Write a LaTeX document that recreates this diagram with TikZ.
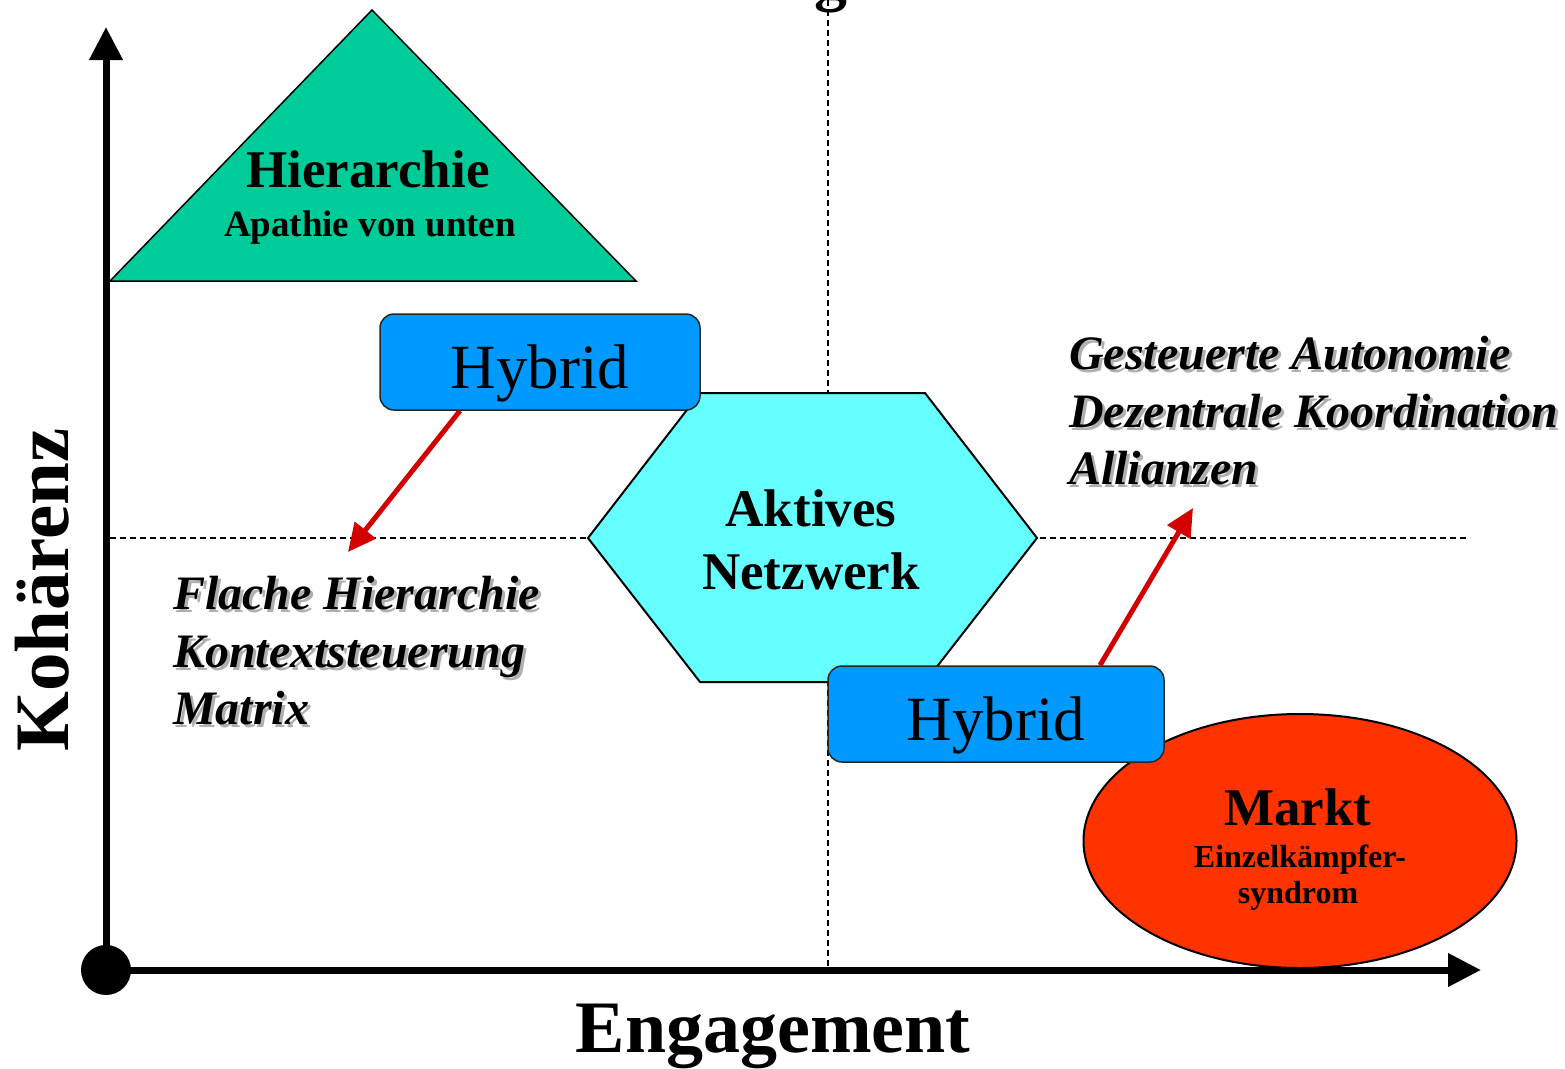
\documentclass[tikz,border=0pt]{standalone}
\usepackage{fontspec}
\setmainfont{Liberation Serif}
\usetikzlibrary{shapes.geometric,arrows.meta,positioning,calc}

\definecolor{hiergruen}{RGB}{0,204,153}
\definecolor{hybridblau}{RGB}{0,153,255}
\definecolor{netzcyan}{RGB}{102,255,255}
\definecolor{marktrot}{RGB}{255,51,0}
\definecolor{pfeilrot}{RGB}{210,0,0}
\definecolor{schatten}{RGB}{175,175,175}

\tikzset{
  raster/.style={line width=1.3pt, dash pattern=on 6pt off 4pt},
  achse/.style={line width=7pt, -{Triangle[length=33pt,width=32pt]}},
  rotpfeil/.style={pfeilrot, line width=5pt, -{Triangle[length=28pt,width=26pt]}},
  hybrid/.style={draw=black!85, fill=hybridblau, line width=1.5pt, rounded corners=14pt,
    minimum height=96pt, text height=52pt, text depth=0pt,
    font=\fontsize{63}{70}\selectfont},
  titel/.style={font=\bfseries\fontsize{53}{60}\selectfont},
  liste/.style={align=left, anchor=north west, inner sep=0pt,
    font=\bfseries\itshape\fontsize{48}{57.5}\selectfont},
}

\begin{document}
\begin{tikzpicture}[x=1pt,y=-1pt]
\useasboundingbox (0,0) rectangle (1565,1068);

% oben abgeschnittener Titel
\node[font=\bfseries\fontsize{66}{70}\selectfont, anchor=base] (oben) at (786,-1.5) {Vollintegriert};

% Raster
\draw[raster] (110,538) -- (1470,538);
\draw[raster] (828,0) -- (828,968);

% Hierarchie
\draw[fill=hiergruen, line width=1.5pt] (110,281) -- (372,10) -- (636,281) -- cycle;
\node[titel, anchor=base] (hier) at (368,187) {Hierarchie};
\node[font=\bfseries\fontsize{37}{40}\selectfont, anchor=base] (apathie) at (370,236) {Apathie von unten};

% Netzwerk
\draw[fill=netzcyan, line width=2pt] (588,538) -- (700,393) -- (925,393) -- (1037,538) -- (925,682) -- (700,682) -- cycle;
\node[titel, align=center, font=\bfseries\fontsize{53}{63}\selectfont] (netz) at (811,540) {Aktives\\Netzwerk};

% Markt
\node[ellipse, draw, fill=marktrot, line width=2pt, inner sep=0pt,
  minimum width=433pt, minimum height=254pt] (markt) at (1300,841) {};
\node[titel, anchor=base] (marktname) at (1298,825) {Markt};
\node[font=\bfseries\fontsize{32}{36}\selectfont, anchor=base] (einzel) at (1300,867) {Einzelkämpfer-};
\node[font=\bfseries\fontsize{32}{36}\selectfont, anchor=base] (syndrom) at (1298,903) {syndrom};

% Hybride
\node[hybrid, minimum width=320pt] (hyb1) at (540,362) {Hybrid};
\node[hybrid, minimum width=336pt] (hyb2) at (996,714) {Hybrid};

% Listen
\node[liste, text=schatten] at (176,579) {Flache Hierarchie\\Kontextsteuerung\\Matrix};
\node[liste] (flach) at (173,576) {Flache Hierarchie\\Kontextsteuerung\\Matrix};
\node[liste, text=schatten] at (1072,339) {Gesteuerte Autonomie\\Dezentrale Koordination\\Allianzen};
\node[liste] (autonom) at (1069,336) {Gesteuerte Autonomie\\Dezentrale Koordination\\Allianzen};

% Pfeile
\coordinate (flachziel) at (348,552);
\coordinate (autonomziel) at (1193,508);
\draw[rotpfeil] ([xshift=-80pt]hyb1.south) -- (flachziel);
\draw[rotpfeil] ([xshift=104pt]hyb2.north) -- (autonomziel);

% Achsen
\node[circle, fill=black, minimum size=50pt, inner sep=0pt] (ursprung) at (106,970) {};
\coordinate (yende) at (106,27);
\coordinate (xende) at (1481,970);
\draw[achse] (ursprung.center) -- (yende);
\draw[achse] (ursprung.center) -- (xende);
\node[font=\bfseries\fontsize{77}{80}\selectfont, rotate=90, anchor=base] (kohaerenz) at (68,590) {Kohärenz};
\node[font=\bfseries\fontsize{74}{80}\selectfont, anchor=base] (engagement) at (773,1052) {Engagement};
\end{tikzpicture}
\end{document}
